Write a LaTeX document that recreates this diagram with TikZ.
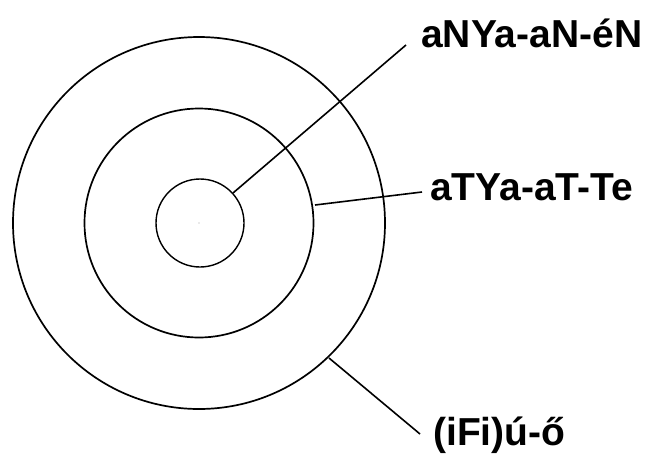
\documentclass[tikz,border=0pt]{standalone}
\usepackage{fontspec}
\setmainfont{Liberation Sans}
\usepackage{tikz}

\tikzset{
    ring/.style={draw,circle,line width=1.7pt,inner sep=0pt},
    lbl/.style={anchor=base west,inner sep=0pt,font=\fontsize{39}{44}\selectfont\bfseries},
}

\begin{document}
\begin{tikzpicture}[x=1pt,y=-1pt]
    \useasboundingbox (0,0) rectangle (648,456);
    \node[ring,minimum size=372pt] (outer) at (199,223) {};
    \node[ring,minimum size=229pt] (middle) at (199,223) {};
    \node[ring,minimum size=88pt,line width=1.4pt] (inner) at (200,223) {};
    \fill (199,223) circle (0.4pt);
    \node[lbl] (nyelv) at (421,47) {aNYa-aN-éN};
    \node[lbl] (tajnyelv) at (430,200) {aTYa-aT-Te};
    \node[lbl] (fiu) at (433,445) {(iFi)ú-ő};
    \coordinate (a1) at (233,193);
    \coordinate (b1) at (406,45);
    \coordinate (a2) at (315,205);
    \coordinate (b2) at (422,192);
    \coordinate (a3) at (329,358);
    \coordinate (b3) at (420,434);
    \draw[-,line width=1.6pt] (a1) to (b1);
    \draw[-,line width=1.6pt] (a2) to (b2);
    \draw[-,line width=1.6pt] (a3) to (b3);
\end{tikzpicture}
\end{document}
